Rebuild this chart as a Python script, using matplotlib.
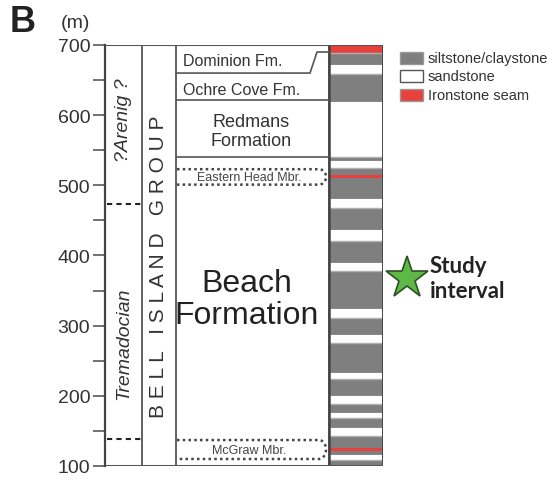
import numpy as np
import matplotlib
matplotlib.use('Agg')
import matplotlib.pyplot as plt
from matplotlib.patches import Rectangle

plt.rcParams['font.family'] = ['Liberation Sans', 'DejaVu Sans']

# lithology log in metres, read from top to base
bed_top = [700, 688, 671, 658, 619, 541, 534, 525, 480, 467, 436, 421, 389, 378,
           324, 311, 287, 275, 232, 224, 200, 188, 175, 168, 154, 143, 116, 108]
bed_base = bed_top[1:] + [100]
bed_type = ['iron', 'silt', 'sand', 'silt', 'sand', 'silt', 'sand', 'silt', 'sand', 'silt',
            'sand', 'silt', 'sand', 'silt', 'sand', 'silt', 'sand', 'silt', 'sand', 'silt',
            'sand', 'silt', 'sand', 'silt', 'sand', 'silt', 'sand', 'silt']
seams = [514, 124]  # thin ironstone seams

# formations
fm_names = ['Dominion Fm.', 'Ochre Cove Fm.', 'Redmans\nFormation', 'Beach\nFormation']
fm_base = [660, 621, 540, 100]
fm_label_y = [678, 637, 577, 338]
dominion_step = 690  # Dominion base steps up next to the log

# members (dotted boxes)
members = ['Eastern Head Mbr.', 'McGraw Mbr.']
mbr_top = [523, 137]
mbr_base = [501, 110]

# stages
stages = ['?Arenig ?', 'Tremadocian']
stage_label_y = [594, 275]
stage_bounds = [473, 138]

study_interval = 368

legend_names = ['siltstone/claystone', 'sandstone', 'Ironstone seam']

colors = {'silt': '#7f7f7f', 'sand': 'white', 'iron': '#e8403a'}
line_c = '#555555'

W, H = 548, 481
fig = plt.figure(figsize=(W / 100, H / 100), dpi=100)
# axes box: x from 105 to 383 px, y 700 m at 46 px, 100 m at 467 px
ax = fig.add_axes([105 / W, 1 - 467 / H, 278 / W, 421 / H])
ax.set_xlim(0, 278)
ax.set_ylim(100, 700)

# column edges (px from left axis)
c_stage, c_group, c_fm, c_log, c_end = 0, 37, 71, 224, 278

for s in ['top', 'right', 'bottom']:
    ax.spines[s].set_visible(False)
ax.spines['left'].set_color('#444444')
ax.spines['left'].set_linewidth(1.6)
ax.set_xticks([])
ax.set_yticks(np.arange(100, 701, 100))
ax.set_yticks(np.arange(150, 700, 100), minor=True)
ax.tick_params(axis='y', which='both', length=8.6, width=1.3, color='#666666',
               pad=2, labelsize=14, labelcolor='#333333')

# lithology log
for t, b, k in zip(bed_top, bed_base, bed_type):
    ec = '#b0b0b0' if k == 'silt' else 'none'
    ax.add_patch(Rectangle((c_log, b), c_end - c_log, t - b, fc=colors[k], ec=ec, lw=1))
ax.hlines(seams, c_log, c_end, color=colors['iron'], lw=2.2)

# column frame
ax.vlines([c_group, c_fm, c_log, c_end], 100, 700, color=line_c, lw=1.3)
ax.vlines([c_log, c_end], 100, 700, color='#444444', lw=1.8)
ax.hlines(700, 0, c_end, color=line_c, lw=1.5)
ax.hlines(100, 0, c_end, color=line_c, lw=2.2)

# formation boundaries
ax.plot([c_fm, 205, 212, c_log], [fm_base[0], fm_base[0], dominion_step, dominion_step],
        color=line_c, lw=1.2)
ax.hlines(fm_base[1:3], c_fm, c_log, color=line_c, lw=1.2)

# formation names
ax.text(78, fm_label_y[0], fm_names[0], fontsize=11.5, va='center', color='#333333')
ax.text(78, fm_label_y[1], fm_names[1], fontsize=11.5, va='center', color='#333333')
ax.text(146, fm_label_y[2], fm_names[2], fontsize=13, ha='center', va='center',
        color='#333333', linespacing=1.15)
ax.text(142, fm_label_y[3], fm_names[3], fontsize=23, ha='center', va='center',
        color='#222222', linespacing=1.05)

# member boxes with rounded right end
for name, t, b in zip(members, mbr_top, mbr_base):
    mid, ry, x1, rx = (t + b) / 2, (t - b) / 2, 214, 7
    a = np.linspace(np.pi / 2, -np.pi / 2, 30)
    xs = np.concatenate([[c_fm + 1], x1 + rx * np.cos(a), [c_fm + 1]])
    ys = np.concatenate([[t], mid + ry * np.sin(a), [b]])
    ax.plot(xs, ys, color='#444444', lw=1.8, ls=(0, (1, 1.3)))
    ax.text(144, mid, name, fontsize=9, ha='center', va='center', color='#444444')

# stage column
ax.hlines(stage_bounds, c_stage + 2, c_group, color='#222222', lw=1.5, ls=(0, (2.5, 2)))
for name, y in zip(stages, stage_label_y):
    ax.text(19, y, name, fontsize=14, style='italic', rotation=90, ha='center',
            va='center', color='#333333')

# group column
ax.text(54, 385, 'B E L L   I S L A N D   G R O U P', fontsize=15, rotation=90,
        ha='center', va='center', color='#333333')

# study interval
ax.plot([302], [study_interval], marker='*', ms=32, mfc='#5cb946', mec='#2f4f25',
        mew=1.2, clip_on=False)
ax.text(325, study_interval, 'Study\ninterval', fontsize=16, fontweight='bold',
        family=['Lato', 'DejaVu Sans'], va='center', ha='left', color='#222222',
        linespacing=1.2, clip_on=False)

# legend
for i, (name, k) in enumerate(zip(legend_names, ['silt', 'sand', 'iron'])):
    yc = [59, 77, 96][i]
    fig.add_artist(Rectangle((400 / W, 1 - (yc + 6) / H), 23 / W, 12 / H,
                             transform=fig.transFigure, fc=colors[k],
                             ec='#555555' if k == 'sand' else '#999999', lw=1))
    fig.text(428 / W, 1 - yc / H, name, fontsize=10.5, va='center', color='#333333')

fig.text(75 / W, 1 - 24 / H, '(m)', fontsize=14, ha='center', va='center', color='#333333')
fig.text(10 / W, 1 - 23 / H, 'B', fontsize=26, fontweight='bold', va='center', color='#222222')

fig.savefig('out.png', dpi=100)
